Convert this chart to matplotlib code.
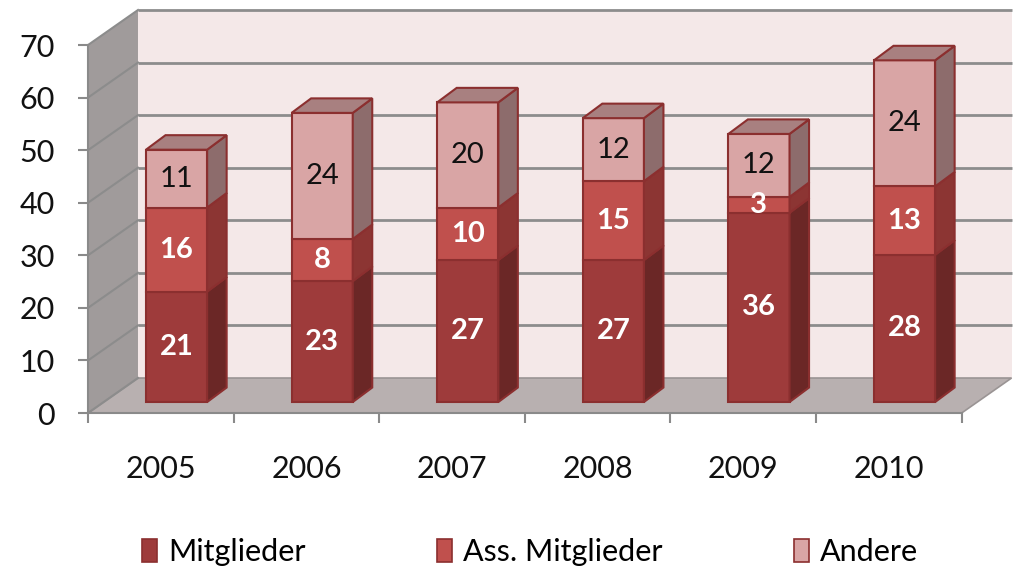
import matplotlib.pyplot as plt
from matplotlib.patches import Polygon, Patch

years = ["2005", "2006", "2007", "2008", "2009", "2010"]
mitglieder = [21, 23, 27, 27, 36, 28]
ass_mitglieder = [16, 8, 10, 15, 3, 13]
andere = [11, 24, 20, 12, 12, 24]

series_names = ["Mitglieder", "Ass. Mitglieder", "Andere"]
front_cols = ["#9e3b3b", "#c0504d", "#d9a5a5"]
side_cols = ["#6b2726", "#8c3533", "#8d6c6c"]
top_cols = ["#a04a49", "#c87573", "#a88080"]
label_cols = ["white", "white", "#111111"]
label_weights = ["bold", "bold", "normal"]
edge_col = "#8b2f2f"

plt.rcParams["font.family"] = ["Lato", "DejaVu Sans"]

# 3d offsets (data units)
WALL_DX, WALL_DY = 0.343, 6.66
BAR_FX, BAR_FY = 0.108, 2.09
BAR_DX, BAR_DY = 0.134, 2.76
BAR_W = 0.42
YMAX = 70

fig = plt.figure(figsize=(10.19, 5.75), dpi=100)
ax = fig.add_axes([0.0864, 0.2817, 0.8573, 0.64])
ax.set_xlim(-0.5, len(years) - 0.5)
ax.set_ylim(0, YMAX)
ax.patch.set_alpha(0)

x0, x1 = -0.5, len(years) - 0.5

def poly(pts, fc, ec="none", lw=0, z=1):
    ax.add_patch(Polygon(pts, closed=True, facecolor=fc, edgecolor=ec, linewidth=lw,
                         zorder=z, clip_on=False, joinstyle="miter"))

# back wall, side wall, floor
poly([(x0 + WALL_DX, WALL_DY), (x1 + WALL_DX, WALL_DY), (x1 + WALL_DX, YMAX + WALL_DY),
      (x0 + WALL_DX, YMAX + WALL_DY)], "#f4e8e8", z=0.5)
poly([(x0, 0), (x0 + WALL_DX, WALL_DY), (x0 + WALL_DX, YMAX + WALL_DY), (x0, YMAX)],
     "#a09b9b", z=0.6)
poly([(x0, 0), (x1, 0), (x1 + WALL_DX, WALL_DY), (x0 + WALL_DX, WALL_DY)],
     "#b8b0b0", ec="#9a9494", lw=1.2, z=0.7)

for v in range(0, YMAX + 1, 10):
    if v > 0:
        ax.plot([x0 + WALL_DX, x1 + WALL_DX], [v + WALL_DY, v + WALL_DY], color="#8c8c8c",
                lw=2, zorder=0.8, clip_on=False, solid_capstyle="butt")
    ax.plot([x0, x0 + WALL_DX], [v, v + WALL_DY], color="#8c8c8c", lw=1.5, zorder=0.8,
            clip_on=False)

# bars
for i in range(len(years)):
    vals = [mitglieder[i], ass_mitglieder[i], andere[i]]
    left = i - BAR_W / 2 + BAR_FX
    right = i + BAR_W / 2 + BAR_FX
    bottom = BAR_FY
    for k, v in enumerate(vals):
        top = bottom + v
        z = 2 + i * 0.1 + k * 0.01
        poly([(left, bottom), (right, bottom), (right, top), (left, top)],
             front_cols[k], edge_col, 1.5, z)
        poly([(right, bottom), (right + BAR_DX, bottom + BAR_DY), (right + BAR_DX, top + BAR_DY),
              (right, top)], side_cols[k], edge_col, 1.5, z)
        if k == len(vals) - 1:
            poly([(left, top), (right, top), (right + BAR_DX, top + BAR_DY),
                  (left + BAR_DX, top + BAR_DY)], top_cols[k], edge_col, 1.5, z)
        ax.text((left + right) / 2, bottom + v / 2, str(v), ha="center", va="center",
                fontsize=21, color=label_cols[k], fontweight=label_weights[k], zorder=5)
        bottom = top

# axes
for s in ["top", "right"]:
    ax.spines[s].set_visible(False)
for s in ["left", "bottom"]:
    ax.spines[s].set_color("#8a8a8a")
    ax.spines[s].set_linewidth(1.5)
ax.set_yticks(range(0, YMAX + 1, 10))
ax.tick_params(axis="y", length=7, width=1.5, color="#8a8a8a", pad=17, labelsize=22,
               labelcolor="#111111")
ax.set_xticks([j - 0.5 for j in range(len(years) + 1)])
ax.set_xticklabels([])
ax.tick_params(axis="x", which="major", length=7, width=1.5, color="#8a8a8a")
ax.set_xticks(range(len(years)), minor=True)
ax.set_xticklabels(years, minor=True)
ax.tick_params(axis="x", which="minor", length=0, pad=30, labelsize=22, labelcolor="#111111")

handles = [Patch(facecolor=front_cols[k], edgecolor=edge_col, linewidth=1.2)
           for k in range(3)]
fig.legend(handles, series_names, loc="center", bbox_to_anchor=(0.52, 0.04), ncol=3,
           frameon=False, fontsize=22, handlelength=0.5, handleheight=0.8,
           handletextpad=0.35, columnspacing=4.3)

fig.savefig("out.png", dpi=100)
